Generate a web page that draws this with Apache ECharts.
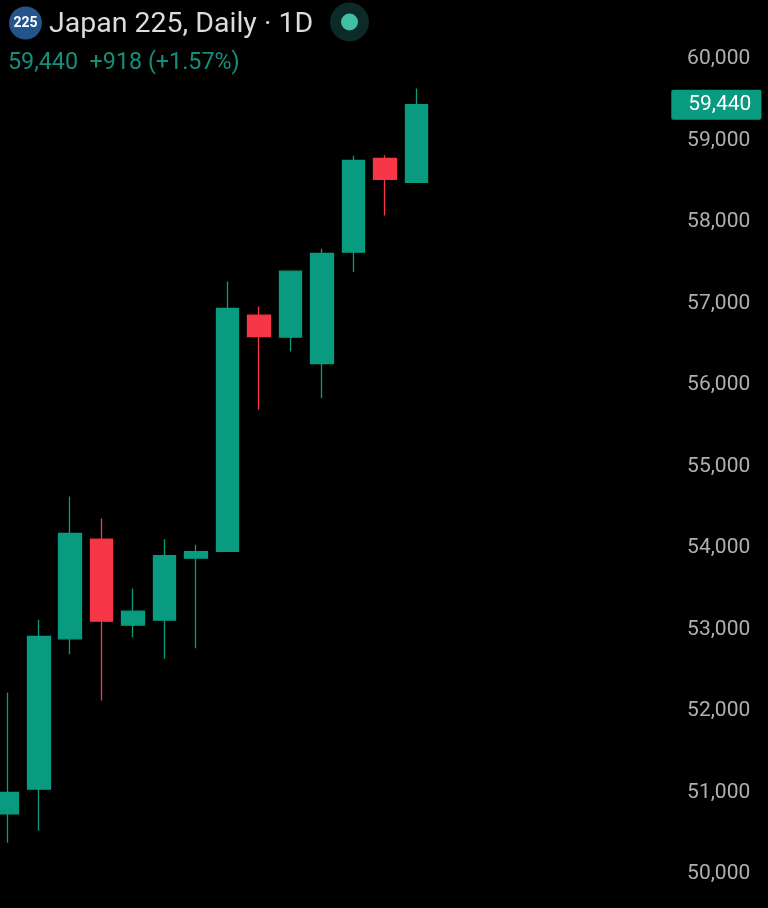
<!DOCTYPE html>
<html>
<head>
<meta charset="utf-8">
<title>Japan 225, Daily</title>
<script src="https://cdn.jsdelivr.net/npm/echarts@6/dist/echarts.min.js"></script>
<style>
  html, body { margin: 0; padding: 0; background: #000; }
  #chart { width: 768px; height: 908px; }
</style>
</head>
<body>
<div id="chart"></div>
<script>
// no dates are visible so the bars are just numbered
const opens  = [50739, 51041, 52886, 54108, 53053, 53114, 53875, 53958, 56857, 56587, 56264, 57630, 58780, 58485];
const closes = [51001, 52915, 54178, 53102, 53225, 53905, 53954, 56939, 56595, 57397, 57614, 58755, 58522, 59440];
const lows   = [50383, 50534, 52697, 52129, 52906, 52641, 52771, 53958, 55696, 56412, 55838, 57385, 58080, 58485];
const highs  = [52227, 53119, 54632, 54362, 53504, 54108, 54040, 57270, 56964, 57402, 57672, 58813, 58820, 59638];
const categories = ['1','2','3','4','5','6','7','8','9','10','11','12','13','14','15','16','17','18','19','20','21'];
const lastPrice = 59440;

const UP = '#089b80';
const DOWN = '#f73647';

const chart = echarts.init(document.getElementById('chart'));

chart.setOption({
    backgroundColor: '#000',
    animation: false,
    textStyle: { fontFamily: 'Roboto' },
    title: [
        { text: 'Japan 225, Daily · 1D', left: 44, top: 5,
          textStyle: { color: '#dcdcdc', fontSize: 28.5, fontWeight: 'normal', fontFamily: 'Roboto' } },
        { text: '59,440  +918 (+1.57%)', left: 3, top: 47,
          textStyle: { color: '#14907a', fontSize: 23.3, fontWeight: 'normal', fontFamily: 'Roboto' } }
    ],
    graphic: [
        { type: 'circle', shape: { cx: 25.5, cy: 23, r: 16.5 }, style: { fill: '#24548c' } },
        { type: 'text', x: 25.5, y: 23, style: { text: '225', fill: '#fff', font: 'bold 14px Roboto', align: 'center', verticalAlign: 'middle' } },
        { type: 'circle', shape: { cx: 349.5, cy: 22, r: 19.5 }, style: { fill: '#0c2a27' } },
        { type: 'circle', shape: { cx: 349.5, cy: 22, r: 8.5 }, style: { fill: '#40bfa3' } }
    ],
    // first bar is cut by the window edge, so the grid has to start off screen
    grid: { left: -8.4, top: 59, width: 660.66, height: 815, outerBoundsMode: 'none' },
    xAxis: {
        type: 'category',
        data: categories,
        axisLine: { show: false },
        axisTick: { show: false },
        axisLabel: { show: false },
        splitLine: { show: false }
    },
    yAxis: {
        type: 'value',
        position: 'right',
        min: 50000,
        max: 60000,
        interval: 1000,
        axisLine: { show: false },
        axisTick: { show: false },
        splitLine: { show: false },
        axisLabel: {
            align: 'right',
            margin: 98,
            color: '#adb0b3',
            fontSize: 21,
            fontFamily: 'Roboto',
            formatter: (v) => v.toLocaleString('en-US')
        }
    },
    series: [{
        type: 'candlestick',
        barWidth: 23,
        data: opens.map((o, i) => [o, closes[i], lows[i], highs[i]]),
        itemStyle: { color: UP, color0: DOWN, borderColor: UP, borderColor0: DOWN, borderWidth: 1.3 },
        markLine: {
            silent: true,
            symbol: 'none',
            lineStyle: { color: 'transparent' },
            data: [{ yAxis: lastPrice }],
            label: {
                position: 'end',
                distance: 19,
                formatter: () => lastPrice.toLocaleString('en-US'),
                color: '#fff',
                fontSize: 21,
                fontFamily: 'Roboto',
                backgroundColor: UP,
                borderRadius: 2,
                padding: [5, 10, 4, 17]
            }
        }
    }]
});
</script>
</body>
</html>
